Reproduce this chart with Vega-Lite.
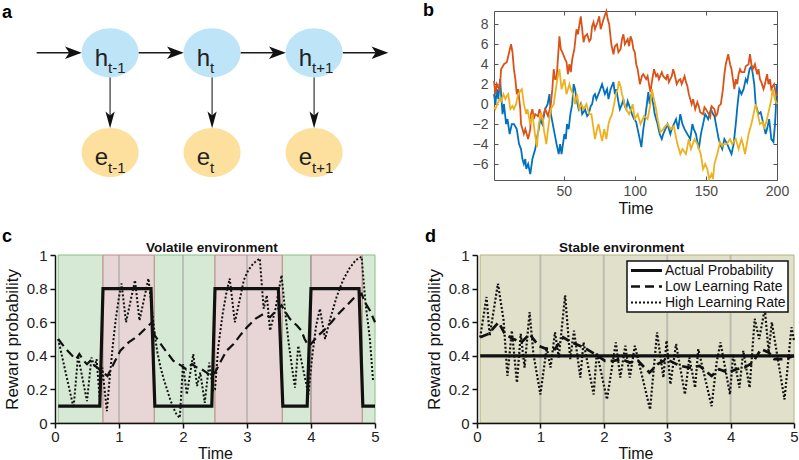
{
"$schema": "https://vega.github.io/schema/vega-lite/v6.json",
"background": "white",
"padding": {"left": 2, "top": 2, "right": 0, "bottom": 0},
"columns": 2,
"bounds": "flush",
"align": "none",
"spacing": {"row": 75, "column": 102},
"resolve": {"scale": {"color": "independent", "strokeDash": "independent", "strokeWidth": "independent"}, "legend": {"strokeDash": "independent", "strokeWidth": "independent"}},
"config": {
  "view": {"stroke": null},
  "font": "Liberation Sans",
  "text": {"font": "Liberation Sans"},
  "axis": {"labelFont": "Liberation Sans", "titleFont": "Liberation Sans", "grid": false, "titleFontWeight": "normal", "labelFlush": false, "labelOverlap": false},
  "legend": {"labelFont": "Liberation Sans", "strokeWidth": 1.5}
},
"datasets": {
  "nodes": [
    {"pos": 1, "lev": 1, "kind": "h", "sub": "t-1"},
    {"pos": 2, "lev": 1, "kind": "h", "sub": "t"},
    {"pos": 3, "lev": 1, "kind": "h", "sub": "t+1"},
    {"pos": 1, "lev": 0, "kind": "e", "sub": "t-1"},
    {"pos": 2, "lev": 0, "kind": "e", "sub": "t"},
    {"pos": 3, "lev": 0, "kind": "e", "sub": "t+1"}
  ],
  "hArrows": [
    {"from": 0.28, "to": 0.70, "head": 0.64, "lev": 1},
    {"from": 1.277, "to": 1.70, "head": 1.64, "lev": 1},
    {"from": 2.277, "to": 2.70, "head": 2.64, "lev": 1},
    {"from": 3.28, "to": 3.70, "head": 3.645, "lev": 1}
  ],
  "vArrows": [
    {"pos": 1, "from": 0.754, "to": 0.30, "head": 0.328},
    {"pos": 2, "from": 0.754, "to": 0.30, "head": 0.328},
    {"pos": 3, "from": 0.754, "to": 0.30, "head": 0.328}
  ],
  "walks": [
    {"s":1,"t":1,"v":1},{"s":1,"t":2,"v":0},{"s":1,"t":3,"v":1.5},{"s":1,"t":4,"v":0.5},{"s":1,"t":5.3,"v":2.5},{"s":1,"t":6,"v":1},{"s":1,"t":7,"v":-1},{"s":1,"t":8,"v":0},{"s":1,"t":9.5,"v":-2},{"s":1,"t":10.5,"v":-1.5},{"s":1,"t":12,"v":-3},{"s":1,"t":13.5,"v":-2},{"s":1,"t":15,"v":-2},{"s":1,"t":17,"v":-2.5},{"s":1,"t":18.6,"v":-4},{"s":1,"t":20,"v":-4.5},{"s":1,"t":21,"v":-5.5},{"s":1,"t":22,"v":-6},{"s":1,"t":23,"v":-5.5},{"s":1,"t":23.7,"v":-6.5},{"s":1,"t":25,"v":-6},{"s":1,"t":26.5,"v":-7},{"s":1,"t":27.5,"v":-6},{"s":1,"t":28,"v":-5.5},{"s":1,"t":30,"v":-4.5},{"s":1,"t":31.7,"v":-3},{"s":1,"t":32.5,"v":-2.5},{"s":1,"t":33.5,"v":-1.5},{"s":1,"t":35,"v":-2},{"s":1,"t":37,"v":-0.5},{"s":1,"t":38.7,"v":0},{"s":1,"t":40,"v":1},{"s":1,"t":41,"v":-1},{"s":1,"t":43,"v":-2.5},{"s":1,"t":45,"v":-4},{"s":1,"t":46.5,"v":-5},{"s":1,"t":47.5,"v":-4},{"s":1,"t":48.5,"v":-5},{"s":1,"t":50.5,"v":-3},{"s":1,"t":51.5,"v":-3.5},{"s":1,"t":52.3,"v":-2},{"s":1,"t":53.5,"v":-2.5},{"s":1,"t":54.7,"v":-1},{"s":1,"t":56,"v":0},{"s":1,"t":57,"v":2},{"s":1,"t":58,"v":1.5},{"s":1,"t":59,"v":0.5},{"s":1,"t":60.5,"v":-0.5},{"s":1,"t":62,"v":0},{"s":1,"t":63,"v":-1},{"s":1,"t":64,"v":-0.8},{"s":1,"t":65,"v":-0.5},{"s":1,"t":66.5,"v":-1.2},{"s":1,"t":67.6,"v":-1},{"s":1,"t":69,"v":-0.2},{"s":1,"t":70,"v":0},{"s":1,"t":71,"v":0.8},{"s":1,"t":72,"v":1},{"s":1,"t":73,"v":0.5},{"s":1,"t":75,"v":1.2},{"s":1,"t":77,"v":2},{"s":1,"t":78,"v":1.5},{"s":1,"t":79,"v":1},{"s":1,"t":80.5,"v":1.5},{"s":1,"t":81.5,"v":0.5},{"s":1,"t":83,"v":1.5},{"s":1,"t":85,"v":2.2},{"s":1,"t":86,"v":1},{"s":1,"t":87,"v":1.5},{"s":1,"t":88.5,"v":0.2},{"s":1,"t":89.5,"v":-0.5},{"s":1,"t":91,"v":0},{"s":1,"t":92,"v":0.5},{"s":1,"t":93,"v":-0.2},{"s":1,"t":94,"v":-0.5},{"s":1,"t":95,"v":0.3},{"s":1,"t":97,"v":-0.5},{"s":1,"t":98,"v":-1},{"s":1,"t":99.5,"v":-1.5},{"s":1,"t":101,"v":-1.8},{"s":1,"t":102,"v":-2.5},{"s":1,"t":103.5,"v":-3.5},{"s":1,"t":104.6,"v":-4.3},{"s":1,"t":106,"v":-2.5},{"s":1,"t":107.6,"v":-1},{"s":1,"t":108.5,"v":0},{"s":1,"t":109.5,"v":1.2},{"s":1,"t":110.5,"v":0},{"s":1,"t":111.5,"v":1},{"s":1,"t":113,"v":0},{"s":1,"t":114,"v":-1},{"s":1,"t":115,"v":-1.5},{"s":1,"t":116,"v":-2},{"s":1,"t":117.5,"v":-3},{"s":1,"t":119,"v":-3.5},{"s":1,"t":120,"v":-3},{"s":1,"t":121.5,"v":-2.5},{"s":1,"t":123,"v":-2},{"s":1,"t":125,"v":-3},{"s":1,"t":126,"v":-2.5},{"s":1,"t":127.5,"v":-2},{"s":1,"t":129,"v":-1.5},{"s":1,"t":130.5,"v":-2.5},{"s":1,"t":132,"v":-1},{"s":1,"t":133.5,"v":-2},{"s":1,"t":135,"v":-2.5},{"s":1,"t":137,"v":-3},{"s":1,"t":139,"v":-3.5},{"s":1,"t":140.5,"v":-2},{"s":1,"t":141.5,"v":-2.5},{"s":1,"t":143,"v":-3},{"s":1,"t":145,"v":-4.5},{"s":1,"t":146.5,"v":-3},{"s":1,"t":148,"v":-2},{"s":1,"t":149.5,"v":-1},{"s":1,"t":151.6,"v":-1.5},{"s":1,"t":153.5,"v":-0.5},{"s":1,"t":155,"v":-1},{"s":1,"t":156,"v":-1.2},{"s":1,"t":157.7,"v":-2.5},{"s":1,"t":159,"v":-3.5},{"s":1,"t":160,"v":-4},{"s":1,"t":161.5,"v":-4.5},{"s":1,"t":163,"v":-3.5},{"s":1,"t":165,"v":-4},{"s":1,"t":166.5,"v":-4.5},{"s":1,"t":168,"v":-5},{"s":1,"t":169.5,"v":-4},{"s":1,"t":171,"v":-2},{"s":1,"t":172.3,"v":0},{"s":1,"t":173.5,"v":1.5},{"s":1,"t":175,"v":1},{"s":1,"t":176.5,"v":1.5},{"s":1,"t":178,"v":2.5},{"s":1,"t":179,"v":2.2},{"s":1,"t":180.7,"v":3.5},{"s":1,"t":182,"v":3.8},{"s":1,"t":183,"v":3},{"s":1,"t":184,"v":2},{"s":1,"t":185,"v":0},{"s":1,"t":186,"v":-0.5},{"s":1,"t":187,"v":-1},{"s":1,"t":188.5,"v":-0.8},{"s":1,"t":190.5,"v":-2},{"s":1,"t":192,"v":-3},{"s":1,"t":193,"v":-2.5},{"s":1,"t":194.5,"v":-1.5},{"s":1,"t":196,"v":-3.5},{"s":1,"t":197.5,"v":-3.8},{"s":1,"t":198.6,"v":-2},{"s":1,"t":199.5,"v":0.5},{"s":1,"t":200,"v":2},
    {"s":2,"t":1,"v":2.3},{"s":2,"t":2,"v":1},{"s":2,"t":3,"v":2},{"s":2,"t":5,"v":1.4},{"s":2,"t":6,"v":3.5},{"s":2,"t":8,"v":4},{"s":2,"t":10,"v":4.2},{"s":2,"t":11,"v":4.8},{"s":2,"t":13,"v":6},{"s":2,"t":14,"v":5.2},{"s":2,"t":15,"v":3.5},{"s":2,"t":16,"v":2.5},{"s":2,"t":17,"v":1},{"s":2,"t":18,"v":1.5},{"s":2,"t":19.5,"v":-0.5},{"s":2,"t":20,"v":-2},{"s":2,"t":22,"v":-3},{"s":2,"t":23,"v":-2.5},{"s":2,"t":25,"v":-3.5},{"s":2,"t":26.5,"v":-2.5},{"s":2,"t":27,"v":-1},{"s":2,"t":28,"v":-0.5},{"s":2,"t":29,"v":-1.5},{"s":2,"t":30,"v":-1},{"s":2,"t":32,"v":-1.2},{"s":2,"t":33,"v":-0.5},{"s":2,"t":35,"v":-1.5},{"s":2,"t":37,"v":-0.5},{"s":2,"t":39,"v":-1.2},{"s":2,"t":41,"v":0},{"s":2,"t":42,"v":1.5},{"s":2,"t":43,"v":3.5},{"s":2,"t":44,"v":2.5},{"s":2,"t":45,"v":2.5},{"s":2,"t":47,"v":6.8},{"s":2,"t":48,"v":5.5},{"s":2,"t":49,"v":5.2},{"s":2,"t":51,"v":4.5},{"s":2,"t":52,"v":4.2},{"s":2,"t":53,"v":3},{"s":2,"t":54,"v":4},{"s":2,"t":55,"v":3.2},{"s":2,"t":56,"v":4.5},{"s":2,"t":57.5,"v":5.5},{"s":2,"t":59,"v":7.5},{"s":2,"t":60,"v":7},{"s":2,"t":62,"v":8.8},{"s":2,"t":63,"v":7.5},{"s":2,"t":64,"v":6.2},{"s":2,"t":65,"v":6.8},{"s":2,"t":66.5,"v":7},{"s":2,"t":68,"v":6.3},{"s":2,"t":69,"v":6.5},{"s":2,"t":70,"v":7.8},{"s":2,"t":71,"v":8.2},{"s":2,"t":72,"v":7.5},{"s":2,"t":74,"v":8.3},{"s":2,"t":75,"v":8.8},{"s":2,"t":76,"v":7.5},{"s":2,"t":78,"v":8.5},{"s":2,"t":80,"v":9.3},{"s":2,"t":81,"v":8.5},{"s":2,"t":82,"v":8},{"s":2,"t":83.5,"v":6},{"s":2,"t":85,"v":5},{"s":2,"t":86,"v":5.8},{"s":2,"t":87.5,"v":6},{"s":2,"t":88.5,"v":5.2},{"s":2,"t":90,"v":5.5},{"s":2,"t":91,"v":6.5},{"s":2,"t":92,"v":7},{"s":2,"t":93,"v":6},{"s":2,"t":95,"v":6.5},{"s":2,"t":96,"v":5.8},{"s":2,"t":97,"v":6.8},{"s":2,"t":98,"v":6.4},{"s":2,"t":99,"v":5.5},{"s":2,"t":100,"v":5.2},{"s":2,"t":101,"v":4},{"s":2,"t":102,"v":3.5},{"s":2,"t":103.6,"v":2},{"s":2,"t":105,"v":2.8},{"s":2,"t":106,"v":3},{"s":2,"t":108,"v":2.5},{"s":2,"t":109,"v":2.8},{"s":2,"t":110,"v":2},{"s":2,"t":111,"v":1.2},{"s":2,"t":112,"v":2.2},{"s":2,"t":113.5,"v":3.5},{"s":2,"t":115,"v":2.8},{"s":2,"t":116,"v":3},{"s":2,"t":117,"v":2.5},{"s":2,"t":119,"v":3.2},{"s":2,"t":120,"v":2.8},{"s":2,"t":122,"v":2.5},{"s":2,"t":123,"v":3},{"s":2,"t":124,"v":2.2},{"s":2,"t":126,"v":2.8},{"s":2,"t":127,"v":3.5},{"s":2,"t":128,"v":3},{"s":2,"t":129.5,"v":2},{"s":2,"t":131,"v":2.4},{"s":2,"t":132,"v":2.5},{"s":2,"t":133,"v":2},{"s":2,"t":135,"v":2.8},{"s":2,"t":136,"v":2.2},{"s":2,"t":137,"v":1.8},{"s":2,"t":138,"v":1},{"s":2,"t":140,"v":0},{"s":2,"t":141,"v":0.5},{"s":2,"t":142.5,"v":-0.5},{"s":2,"t":144,"v":0.2},{"s":2,"t":145,"v":-0.2},{"s":2,"t":146,"v":-0.8},{"s":2,"t":148,"v":-1},{"s":2,"t":149,"v":-0.3},{"s":2,"t":150,"v":-0.5},{"s":2,"t":152,"v":-1},{"s":2,"t":153,"v":-1.3},{"s":2,"t":154,"v":-0.2},{"s":2,"t":156,"v":-0.5},{"s":2,"t":157,"v":-1.2},{"s":2,"t":158,"v":-1},{"s":2,"t":159,"v":-0.2},{"s":2,"t":160.5,"v":0},{"s":2,"t":162,"v":1.5},{"s":2,"t":163,"v":3},{"s":2,"t":164,"v":4},{"s":2,"t":165.7,"v":5},{"s":2,"t":167,"v":4},{"s":2,"t":168,"v":3.5},{"s":2,"t":169,"v":2.5},{"s":2,"t":170,"v":1.5},{"s":2,"t":171,"v":2.5},{"s":2,"t":172,"v":2},{"s":2,"t":173,"v":3},{"s":2,"t":174,"v":3.5},{"s":2,"t":175,"v":3.2},{"s":2,"t":177,"v":3.2},{"s":2,"t":178,"v":3.8},{"s":2,"t":180,"v":4},{"s":2,"t":181,"v":5},{"s":2,"t":182,"v":4},{"s":2,"t":183,"v":3.5},{"s":2,"t":184.5,"v":4},{"s":2,"t":186,"v":3},{"s":2,"t":187,"v":3.5},{"s":2,"t":188,"v":2.5},{"s":2,"t":189,"v":2.2},{"s":2,"t":190.5,"v":1.5},{"s":2,"t":191.5,"v":2},{"s":2,"t":193,"v":3},{"s":2,"t":194,"v":2},{"s":2,"t":195,"v":2.5},{"s":2,"t":196,"v":1.5},{"s":2,"t":197,"v":1.8},{"s":2,"t":198,"v":2},{"s":2,"t":199,"v":1.2},{"s":2,"t":200,"v":0.8},
    {"s":3,"t":1,"v":-0.3},{"s":3,"t":2,"v":-0.5},{"s":3,"t":3.3,"v":0},{"s":3,"t":5,"v":0.5},{"s":3,"t":6,"v":0.3},{"s":3,"t":7.6,"v":1},{"s":3,"t":9,"v":0.5},{"s":3,"t":10,"v":0.8},{"s":3,"t":11,"v":1},{"s":3,"t":12.5,"v":-0.5},{"s":3,"t":14,"v":-0.2},{"s":3,"t":15,"v":-0.5},{"s":3,"t":16.5,"v":0},{"s":3,"t":18,"v":1},{"s":3,"t":19,"v":1.2},{"s":3,"t":20.6,"v":1.5},{"s":3,"t":22,"v":0},{"s":3,"t":23.7,"v":-1},{"s":3,"t":24.5,"v":-0.5},{"s":3,"t":26.5,"v":-2},{"s":3,"t":28,"v":-1},{"s":3,"t":29.8,"v":-3},{"s":3,"t":31.2,"v":-4.3},{"s":3,"t":32.5,"v":-2},{"s":3,"t":34,"v":-1},{"s":3,"t":35.5,"v":-1.5},{"s":3,"t":36,"v":-2.5},{"s":3,"t":37.8,"v":-4},{"s":3,"t":39,"v":-2.5},{"s":3,"t":41,"v":-0.5},{"s":3,"t":43,"v":0},{"s":3,"t":44,"v":1},{"s":3,"t":45.5,"v":2.5},{"s":3,"t":47,"v":3.5},{"s":3,"t":48.5,"v":1.5},{"s":3,"t":50.5,"v":2.5},{"s":3,"t":52,"v":1},{"s":3,"t":54,"v":2},{"s":3,"t":55,"v":1.5},{"s":3,"t":56.6,"v":1},{"s":3,"t":58,"v":0},{"s":3,"t":59.4,"v":1},{"s":3,"t":61,"v":-0.5},{"s":3,"t":62.5,"v":0},{"s":3,"t":64,"v":-0.5},{"s":3,"t":66,"v":0},{"s":3,"t":68,"v":-1},{"s":3,"t":69.5,"v":-1},{"s":3,"t":71,"v":-2.5},{"s":3,"t":72,"v":-3.5},{"s":3,"t":73.5,"v":-2.5},{"s":3,"t":74.5,"v":-2},{"s":3,"t":76,"v":-3},{"s":3,"t":77,"v":-3.7},{"s":3,"t":78.5,"v":-2.5},{"s":3,"t":80,"v":-3.5},{"s":3,"t":81.5,"v":-2},{"s":3,"t":82.5,"v":-1.5},{"s":3,"t":84,"v":-1},{"s":3,"t":85.5,"v":0},{"s":3,"t":86.7,"v":1},{"s":3,"t":88,"v":1.5},{"s":3,"t":88.8,"v":2.3},{"s":3,"t":90,"v":1.8},{"s":3,"t":91,"v":1},{"s":3,"t":92.8,"v":0},{"s":3,"t":94,"v":-0.5},{"s":3,"t":96,"v":-1},{"s":3,"t":97.5,"v":-0.5},{"s":3,"t":98.5,"v":0},{"s":3,"t":100,"v":-1.5},{"s":3,"t":102,"v":-1},{"s":3,"t":104,"v":-2},{"s":3,"t":106.5,"v":-1.2},{"s":3,"t":109,"v":-1.5},{"s":3,"t":111,"v":0},{"s":3,"t":112,"v":1.5},{"s":3,"t":113.5,"v":0.5},{"s":3,"t":115,"v":-0.5},{"s":3,"t":116,"v":-1.5},{"s":3,"t":118,"v":-2.8},{"s":3,"t":120,"v":-2.5},{"s":3,"t":121.5,"v":-2.2},{"s":3,"t":123,"v":-2},{"s":3,"t":125.5,"v":-2.5},{"s":3,"t":127.5,"v":-2.2},{"s":3,"t":128.5,"v":-3},{"s":3,"t":130,"v":-4},{"s":3,"t":132,"v":-5},{"s":3,"t":133.5,"v":-4.5},{"s":3,"t":135,"v":-4.8},{"s":3,"t":136,"v":-5},{"s":3,"t":138,"v":-3.5},{"s":3,"t":139.5,"v":-4.5},{"s":3,"t":142,"v":-3.5},{"s":3,"t":144,"v":-4},{"s":3,"t":146.4,"v":-5},{"s":3,"t":148,"v":-6.5},{"s":3,"t":149.5,"v":-6},{"s":3,"t":151,"v":-6.5},{"s":3,"t":152.3,"v":-7.5},{"s":3,"t":154,"v":-7},{"s":3,"t":155,"v":-7.5},{"s":3,"t":156,"v":-6},{"s":3,"t":158,"v":-5},{"s":3,"t":160,"v":-3.8},{"s":3,"t":161.5,"v":-4.2},{"s":3,"t":162.5,"v":-4},{"s":3,"t":164.7,"v":-4},{"s":3,"t":167,"v":-3.5},{"s":3,"t":168.5,"v":-4},{"s":3,"t":169.5,"v":-3.8},{"s":3,"t":171,"v":-3.5},{"s":3,"t":173,"v":-4.5},{"s":3,"t":175,"v":-3.5},{"s":3,"t":176,"v":-4},{"s":3,"t":177.5,"v":-5},{"s":3,"t":179,"v":-3.8},{"s":3,"t":180,"v":-3},{"s":3,"t":182,"v":-2},{"s":3,"t":183.5,"v":-1},{"s":3,"t":185,"v":0},{"s":3,"t":186.5,"v":-1},{"s":3,"t":188,"v":-2},{"s":3,"t":190,"v":-1.8},{"s":3,"t":191,"v":-2.5},{"s":3,"t":193,"v":-1.5},{"s":3,"t":194.5,"v":-0.5},{"s":3,"t":196,"v":0.5},{"s":3,"t":197,"v":1.5},{"s":3,"t":198.5,"v":0.5},{"s":3,"t":200,"v":0}
  ],
  "cShade": [
    {"start": 0.05, "end": 0.75, "env": "green"},
    {"start": 0.75, "end": 1.55, "env": "red"},
    {"start": 1.55, "end": 2.5, "env": "green"},
    {"start": 2.5, "end": 3.55, "env": "red"},
    {"start": 3.55, "end": 4.0, "env": "green"},
    {"start": 4.0, "end": 4.8, "env": "red"},
    {"start": 4.8, "end": 5.0, "env": "green"}
  ],
  "dShade": [{"start": 0.05, "end": 5.0, "env": "stable"}],
  "grid": [{"t": 1}, {"t": 2}, {"t": 3}, {"t": 4}],
  "cLines": [
    {"series":"Actual Probability","t":0.05,"v":0.1},{"series":"Actual Probability","t":0.7,"v":0.1},{"series":"Actual Probability","t":0.75,"v":0.8},{"series":"Actual Probability","t":1.5,"v":0.8},{"series":"Actual Probability","t":1.56,"v":0.1},{"series":"Actual Probability","t":2.45,"v":0.1},{"series":"Actual Probability","t":2.5,"v":0.8},{"series":"Actual Probability","t":3.49,"v":0.8},{"series":"Actual Probability","t":3.56,"v":0.1},{"series":"Actual Probability","t":3.94,"v":0.1},{"series":"Actual Probability","t":4.0,"v":0.8},{"series":"Actual Probability","t":4.75,"v":0.8},{"series":"Actual Probability","t":4.81,"v":0.1},{"series":"Actual Probability","t":5.0,"v":0.1},
    {"series":"Low Learning Rate","t":0.05,"v":0.5},{"series":"Low Learning Rate","t":0.15,"v":0.45},{"series":"Low Learning Rate","t":0.27,"v":0.4},{"series":"Low Learning Rate","t":0.33,"v":0.38},{"series":"Low Learning Rate","t":0.38,"v":0.41},{"series":"Low Learning Rate","t":0.45,"v":0.37},{"series":"Low Learning Rate","t":0.5,"v":0.35},{"series":"Low Learning Rate","t":0.55,"v":0.37},{"series":"Low Learning Rate","t":0.6,"v":0.35},{"series":"Low Learning Rate","t":0.66,"v":0.33},{"series":"Low Learning Rate","t":0.72,"v":0.31},{"series":"Low Learning Rate","t":0.82,"v":0.28},{"series":"Low Learning Rate","t":0.94,"v":0.37},{"series":"Low Learning Rate","t":1.02,"v":0.43},{"series":"Low Learning Rate","t":1.15,"v":0.48},{"series":"Low Learning Rate","t":1.3,"v":0.52},{"series":"Low Learning Rate","t":1.46,"v":0.58},{"series":"Low Learning Rate","t":1.52,"v":0.6},{"series":"Low Learning Rate","t":1.56,"v":0.52},{"series":"Low Learning Rate","t":1.69,"v":0.45},{"series":"Low Learning Rate","t":1.85,"v":0.37},{"series":"Low Learning Rate","t":1.98,"v":0.34},{"series":"Low Learning Rate","t":2.05,"v":0.32},{"series":"Low Learning Rate","t":2.14,"v":0.35},{"series":"Low Learning Rate","t":2.22,"v":0.33},{"series":"Low Learning Rate","t":2.29,"v":0.32},{"series":"Low Learning Rate","t":2.37,"v":0.3},{"series":"Low Learning Rate","t":2.43,"v":0.28},{"series":"Low Learning Rate","t":2.5,"v":0.3},{"series":"Low Learning Rate","t":2.58,"v":0.36},{"series":"Low Learning Rate","t":2.68,"v":0.43},{"series":"Low Learning Rate","t":2.79,"v":0.47},{"series":"Low Learning Rate","t":2.89,"v":0.52},{"series":"Low Learning Rate","t":3.0,"v":0.57},{"series":"Low Learning Rate","t":3.13,"v":0.62},{"series":"Low Learning Rate","t":3.26,"v":0.65},{"series":"Low Learning Rate","t":3.36,"v":0.63},{"series":"Low Learning Rate","t":3.46,"v":0.67},{"series":"Low Learning Rate","t":3.54,"v":0.7},{"series":"Low Learning Rate","t":3.6,"v":0.66},{"series":"Low Learning Rate","t":3.67,"v":0.62},{"series":"Low Learning Rate","t":3.78,"v":0.58},{"series":"Low Learning Rate","t":3.85,"v":0.55},{"series":"Low Learning Rate","t":3.9,"v":0.5},{"series":"Low Learning Rate","t":3.96,"v":0.46},{"series":"Low Learning Rate","t":4.0,"v":0.47},{"series":"Low Learning Rate","t":4.11,"v":0.52},{"series":"Low Learning Rate","t":4.2,"v":0.55},{"series":"Low Learning Rate","t":4.32,"v":0.6},{"series":"Low Learning Rate","t":4.43,"v":0.65},{"series":"Low Learning Rate","t":4.56,"v":0.7},{"series":"Low Learning Rate","t":4.66,"v":0.74},{"series":"Low Learning Rate","t":4.79,"v":0.77},{"series":"Low Learning Rate","t":4.84,"v":0.72},{"series":"Low Learning Rate","t":4.92,"v":0.67},{"series":"Low Learning Rate","t":5.0,"v":0.6},
    {"series":"High Learning Rate","t":0.05,"v":0.5},{"series":"High Learning Rate","t":0.29,"v":0.09},{"series":"High Learning Rate","t":0.36,"v":0.4},{"series":"High Learning Rate","t":0.5,"v":0.13},{"series":"High Learning Rate","t":0.57,"v":0.39},{"series":"High Learning Rate","t":0.62,"v":0.33},{"series":"High Learning Rate","t":0.65,"v":0.38},{"series":"High Learning Rate","t":0.7,"v":0.14},{"series":"High Learning Rate","t":0.74,"v":0.33},{"series":"High Learning Rate","t":0.81,"v":0.07},{"series":"High Learning Rate","t":0.85,"v":0.25},{"series":"High Learning Rate","t":0.9,"v":0.45},{"series":"High Learning Rate","t":0.95,"v":0.62},{"series":"High Learning Rate","t":1.0,"v":0.75},{"series":"High Learning Rate","t":1.04,"v":0.83},{"series":"High Learning Rate","t":1.11,"v":0.6},{"series":"High Learning Rate","t":1.25,"v":0.85},{"series":"High Learning Rate","t":1.32,"v":0.61},{"series":"High Learning Rate","t":1.46,"v":0.86},{"series":"High Learning Rate","t":1.56,"v":0.52},{"series":"High Learning Rate","t":1.6,"v":0.42},{"series":"High Learning Rate","t":1.65,"v":0.33},{"series":"High Learning Rate","t":1.7,"v":0.26},{"series":"High Learning Rate","t":1.75,"v":0.2},{"series":"High Learning Rate","t":1.8,"v":0.14},{"series":"High Learning Rate","t":1.85,"v":0.09},{"series":"High Learning Rate","t":1.9,"v":0.05},{"series":"High Learning Rate","t":1.95,"v":0.03},{"series":"High Learning Rate","t":2.0,"v":0.35},{"series":"High Learning Rate","t":2.06,"v":0.17},{"series":"High Learning Rate","t":2.16,"v":0.41},{"series":"High Learning Rate","t":2.22,"v":0.22},{"series":"High Learning Rate","t":2.27,"v":0.3},{"series":"High Learning Rate","t":2.34,"v":0.12},{"series":"High Learning Rate","t":2.41,"v":0.36},{"series":"High Learning Rate","t":2.47,"v":0.19},{"series":"High Learning Rate","t":2.5,"v":0.2},{"series":"High Learning Rate","t":2.55,"v":0.45},{"series":"High Learning Rate","t":2.62,"v":0.65},{"series":"High Learning Rate","t":2.68,"v":0.78},{"series":"High Learning Rate","t":2.73,"v":0.86},{"series":"High Learning Rate","t":2.81,"v":0.6},{"series":"High Learning Rate","t":2.89,"v":0.74},{"series":"High Learning Rate","t":2.95,"v":0.85},{"series":"High Learning Rate","t":3.02,"v":0.91},{"series":"High Learning Rate","t":3.1,"v":0.95},{"series":"High Learning Rate","t":3.2,"v":0.98},{"series":"High Learning Rate","t":3.26,"v":0.68},{"series":"High Learning Rate","t":3.31,"v":0.76},{"series":"High Learning Rate","t":3.36,"v":0.55},{"series":"High Learning Rate","t":3.44,"v":0.67},{"series":"High Learning Rate","t":3.54,"v":0.88},{"series":"High Learning Rate","t":3.6,"v":0.65},{"series":"High Learning Rate","t":3.65,"v":0.48},{"series":"High Learning Rate","t":3.7,"v":0.34},{"series":"High Learning Rate","t":3.75,"v":0.21},{"series":"High Learning Rate","t":3.8,"v":0.46},{"series":"High Learning Rate","t":3.96,"v":0.17},{"series":"High Learning Rate","t":4.02,"v":0.4},{"series":"High Learning Rate","t":4.08,"v":0.58},{"series":"High Learning Rate","t":4.14,"v":0.68},{"series":"High Learning Rate","t":4.22,"v":0.5},{"series":"High Learning Rate","t":4.3,"v":0.62},{"series":"High Learning Rate","t":4.4,"v":0.75},{"series":"High Learning Rate","t":4.5,"v":0.85},{"series":"High Learning Rate","t":4.6,"v":0.92},{"series":"High Learning Rate","t":4.7,"v":0.97},{"series":"High Learning Rate","t":4.79,"v":0.99},{"series":"High Learning Rate","t":4.85,"v":0.72},{"series":"High Learning Rate","t":4.92,"v":0.5},{"series":"High Learning Rate","t":4.97,"v":0.25}
  ],
  "dLines": [
    {"series":"Actual Probability","t":0.05,"v":0.4},{"series":"Actual Probability","t":5.0,"v":0.4},
    {"series":"Low Learning Rate","t":0.05,"v":0.51},{"series":"Low Learning Rate","t":0.18,"v":0.53},{"series":"Low Learning Rate","t":0.34,"v":0.6},{"series":"Low Learning Rate","t":0.44,"v":0.53},{"series":"Low Learning Rate","t":0.57,"v":0.5},{"series":"Low Learning Rate","t":0.7,"v":0.48},{"series":"Low Learning Rate","t":0.83,"v":0.53},{"series":"Low Learning Rate","t":0.97,"v":0.46},{"series":"Low Learning Rate","t":1.1,"v":0.44},{"series":"Low Learning Rate","t":1.23,"v":0.44},{"series":"Low Learning Rate","t":1.36,"v":0.51},{"series":"Low Learning Rate","t":1.49,"v":0.48},{"series":"Low Learning Rate","t":1.62,"v":0.46},{"series":"Low Learning Rate","t":1.73,"v":0.44},{"series":"Low Learning Rate","t":1.86,"v":0.41},{"series":"Low Learning Rate","t":2.02,"v":0.37},{"series":"Low Learning Rate","t":2.15,"v":0.37},{"series":"Low Learning Rate","t":2.28,"v":0.38},{"series":"Low Learning Rate","t":2.41,"v":0.36},{"series":"Low Learning Rate","t":2.54,"v":0.37},{"series":"Low Learning Rate","t":2.72,"v":0.3},{"series":"Low Learning Rate","t":2.85,"v":0.35},{"series":"Low Learning Rate","t":2.99,"v":0.38},{"series":"Low Learning Rate","t":3.2,"v":0.34},{"series":"Low Learning Rate","t":3.35,"v":0.33},{"series":"Low Learning Rate","t":3.51,"v":0.34},{"series":"Low Learning Rate","t":3.7,"v":0.28},{"series":"Low Learning Rate","t":3.82,"v":0.32},{"series":"Low Learning Rate","t":3.96,"v":0.3},{"series":"Low Learning Rate","t":4.09,"v":0.32},{"series":"Low Learning Rate","t":4.22,"v":0.33},{"series":"Low Learning Rate","t":4.35,"v":0.36},{"series":"Low Learning Rate","t":4.48,"v":0.44},{"series":"Low Learning Rate","t":4.6,"v":0.42},{"series":"Low Learning Rate","t":4.69,"v":0.38},{"series":"Low Learning Rate","t":4.85,"v":0.38},{"series":"Low Learning Rate","t":5.0,"v":0.4},
    {"series":"High Learning Rate","t":0.05,"v":0.51},{"series":"High Learning Rate","t":0.15,"v":0.75},{"series":"High Learning Rate","t":0.2,"v":0.52},{"series":"High Learning Rate","t":0.33,"v":0.83},{"series":"High Learning Rate","t":0.42,"v":0.61},{"series":"High Learning Rate","t":0.48,"v":0.28},{"series":"High Learning Rate","t":0.55,"v":0.55},{"series":"High Learning Rate","t":0.63,"v":0.24},{"series":"High Learning Rate","t":0.69,"v":0.53},{"series":"High Learning Rate","t":0.75,"v":0.33},{"series":"High Learning Rate","t":0.83,"v":0.66},{"series":"High Learning Rate","t":0.89,"v":0.41},{"series":"High Learning Rate","t":1.0,"v":0.17},{"series":"High Learning Rate","t":1.1,"v":0.45},{"series":"High Learning Rate","t":1.16,"v":0.33},{"series":"High Learning Rate","t":1.23,"v":0.54},{"series":"High Learning Rate","t":1.29,"v":0.39},{"series":"High Learning Rate","t":1.39,"v":0.76},{"series":"High Learning Rate","t":1.47,"v":0.38},{"series":"High Learning Rate","t":1.53,"v":0.55},{"series":"High Learning Rate","t":1.63,"v":0.27},{"series":"High Learning Rate","t":1.68,"v":0.48},{"series":"High Learning Rate","t":1.84,"v":0.17},{"series":"High Learning Rate","t":1.89,"v":0.42},{"series":"High Learning Rate","t":2.05,"v":0.14},{"series":"High Learning Rate","t":2.19,"v":0.48},{"series":"High Learning Rate","t":2.26,"v":0.27},{"series":"High Learning Rate","t":2.34,"v":0.46},{"series":"High Learning Rate","t":2.41,"v":0.27},{"series":"High Learning Rate","t":2.49,"v":0.46},{"series":"High Learning Rate","t":2.73,"v":0.08},{"series":"High Learning Rate","t":2.84,"v":0.54},{"series":"High Learning Rate","t":2.94,"v":0.27},{"series":"High Learning Rate","t":2.99,"v":0.49},{"series":"High Learning Rate","t":3.05,"v":0.23},{"series":"High Learning Rate","t":3.14,"v":0.47},{"series":"High Learning Rate","t":3.28,"v":0.17},{"series":"High Learning Rate","t":3.35,"v":0.39},{"series":"High Learning Rate","t":3.44,"v":0.21},{"series":"High Learning Rate","t":3.49,"v":0.44},{"series":"High Learning Rate","t":3.7,"v":0.1},{"series":"High Learning Rate","t":3.78,"v":0.36},{"series":"High Learning Rate","t":3.84,"v":0.48},{"series":"High Learning Rate","t":3.99,"v":0.17},{"series":"High Learning Rate","t":4.04,"v":0.41},{"series":"High Learning Rate","t":4.14,"v":0.21},{"series":"High Learning Rate","t":4.2,"v":0.43},{"series":"High Learning Rate","t":4.3,"v":0.21},{"series":"High Learning Rate","t":4.38,"v":0.62},{"series":"High Learning Rate","t":4.45,"v":0.5},{"series":"High Learning Rate","t":4.54,"v":0.68},{"series":"High Learning Rate","t":4.6,"v":0.42},{"series":"High Learning Rate","t":4.65,"v":0.6},{"series":"High Learning Rate","t":4.85,"v":0.14},{"series":"High Learning Rate","t":4.96,"v":0.57},{"series":"High Learning Rate","t":5.0,"v":0.49}
  ]
},
"concat": [
  {
    "width": 320, "height": 169,
    "layer": [
      {"data": {"name": "hArrows"}, "mark": {"type": "rule", "color": "#1a1a1a", "strokeWidth": 1.4},
       "encoding": {"x": {"field": "from", "type": "quantitative", "scale": {"domain": [0.46, 3.597], "nice": false, "zero": false}, "axis": null},
                    "x2": {"field": "to"},
                    "y": {"field": "lev", "type": "quantitative", "scale": {"domain": [-0.276, 1.419], "nice": false, "zero": false}, "axis": null}}},
      {"data": {"name": "vArrows"}, "mark": {"type": "rule", "color": "#333333", "strokeWidth": 1.2},
       "encoding": {"x": {"field": "pos", "type": "quantitative", "scale": {"domain": [0.46, 3.597], "nice": false, "zero": false}, "axis": null},
                    "y": {"field": "from", "type": "quantitative", "scale": {"domain": [-0.276, 1.419], "nice": false, "zero": false}, "axis": null},
                    "y2": {"field": "to"}}},
      {"data": {"name": "nodes"}, "transform": [{"filter": "datum.kind === 'h'"}],
       "mark": {"type": "point", "shape": "M-1,0A1,0.86,0,1,0,1,0A1,0.86,0,1,0,-1,0Z", "size": 3249, "filled": true, "color": "#bee4f8", "opacity": 1, "strokeWidth": 0},
       "encoding": {"x": {"field": "pos", "type": "quantitative", "scale": {"domain": [0.46, 3.597], "nice": false, "zero": false}, "axis": null},
                    "y": {"field": "lev", "type": "quantitative", "scale": {"domain": [-0.276, 1.419], "nice": false, "zero": false}, "axis": null}}},
      {"data": {"name": "nodes"}, "transform": [{"filter": "datum.kind === 'e'"}],
       "mark": {"type": "point", "shape": "M-1,0A1,0.86,0,1,0,1,0A1,0.86,0,1,0,-1,0Z", "size": 3249, "filled": true, "color": "#fde09e", "opacity": 1, "strokeWidth": 0},
       "encoding": {"x": {"field": "pos", "type": "quantitative", "scale": {"domain": [0.46, 3.597], "nice": false, "zero": false}, "axis": null},
                    "y": {"field": "lev", "type": "quantitative", "scale": {"domain": [-0.276, 1.419], "nice": false, "zero": false}, "axis": null}}},
      {"data": {"name": "hArrows"},
       "mark": {"type": "point", "shape": "M1,0L-1,-0.76L-0.5,0L-1,0.76Z", "size": 279, "filled": true, "color": "#111111", "opacity": 1, "strokeWidth": 0},
       "encoding": {"x": {"field": "head", "type": "quantitative", "scale": {"domain": [0.46, 3.597], "nice": false, "zero": false}, "axis": null},
                    "y": {"field": "lev", "type": "quantitative", "scale": {"domain": [-0.276, 1.419], "nice": false, "zero": false}, "axis": null}}},
      {"data": {"name": "vArrows"},
       "mark": {"type": "point", "shape": "M0,1L-0.55,-1L0,-0.5L0.55,-1Z", "size": 279, "filled": true, "color": "#111111", "opacity": 1, "strokeWidth": 0},
       "encoding": {"x": {"field": "pos", "type": "quantitative", "scale": {"domain": [0.46, 3.597], "nice": false, "zero": false}, "axis": null},
                    "y": {"field": "head", "type": "quantitative", "scale": {"domain": [-0.276, 1.419], "nice": false, "zero": false}, "axis": null}}},
      {"data": {"name": "nodes"},
       "mark": {"type": "text", "fontSize": 24, "align": "right", "dx": -2, "dy": 6, "color": "#222222"},
       "encoding": {"x": {"field": "pos", "type": "quantitative", "scale": {"domain": [0.46, 3.597], "nice": false, "zero": false}, "axis": null},
                    "y": {"field": "lev", "type": "quantitative", "scale": {"domain": [-0.276, 1.419], "nice": false, "zero": false}, "axis": null},
                    "text": {"field": "kind"}}},
      {"data": {"name": "nodes"},
       "mark": {"type": "text", "fontSize": 15, "align": "left", "dx": -2, "dy": 15.5, "color": "#222222"},
       "encoding": {"x": {"field": "pos", "type": "quantitative", "scale": {"domain": [0.46, 3.597], "nice": false, "zero": false}, "axis": null},
                    "y": {"field": "lev", "type": "quantitative", "scale": {"domain": [-0.276, 1.419], "nice": false, "zero": false}, "axis": null},
                    "text": {"field": "sub"}}},
      {"data": {"values": [{}]},
       "mark": {"type": "text", "text": "a", "fontSize": 18, "fontWeight": "bold", "align": "left", "dx": -53, "dy": 2, "color": "#000000"},
       "encoding": {"x": {"datum": 0.46, "type": "quantitative", "scale": {"domain": [0.46, 3.597], "nice": false, "zero": false}, "axis": null},
                    "y": {"datum": 1.419, "type": "quantitative", "scale": {"domain": [-0.276, 1.419], "nice": false, "zero": false}, "axis": null}}}
    ]
  },
  {
    "width": 300, "height": 169,
    "data": {"name": "walks"},
    "layer": [
      {"transform": [{"filter": "datum.s !== 3"}],
       "mark": {"type": "line", "strokeWidth": 1.8},
       "encoding": {
         "x": {"field": "t", "type": "quantitative", "scale": {"domain": [1, 200], "range": [17, 300], "nice": false, "zero": false},
               "axis": {"orient": "bottom", "values": [50, 100, 150, 200], "tickSize": -4, "tickColor": "#555555", "domainColor": "#555555", "labelPadding": 8, "labelFontSize": 14, "labelColor": "#4a4a4a", "labelOverlap": false, "title": "Time", "titleFontSize": 16, "titleColor": "#111111", "titlePadding": 2}},
         "y": {"field": "v", "type": "quantitative", "scale": {"domain": [-7.6, 9.33], "nice": false, "zero": false},
               "axis": {"orient": "left", "offset": -17, "values": [-6, -4, -2, 0, 2, 4, 6, 8], "tickSize": -4, "tickColor": "#555555", "domainColor": "#555555", "labelPadding": 10, "labelFontSize": 14, "labelColor": "#4a4a4a", "labelOverlap": false, "title": null}},
         "color": {"field": "s", "type": "nominal", "scale": {"domain": [1, 2, 3], "range": ["#0072BD", "#D95319", "#EDB120"]}, "legend": null}}},
      {"transform": [{"filter": "datum.s === 3"}],
       "mark": {"type": "line", "strokeWidth": 1.8},
       "encoding": {
         "x": {"field": "t", "type": "quantitative",
               "axis": {"orient": "top", "values": [50, 100, 150, 200], "tickSize": -4, "tickColor": "#555555", "domainColor": "#555555", "labels": false, "title": null}},
         "y": {"field": "v", "type": "quantitative",
               "axis": {"orient": "right", "values": [-6, -4, -2, 0, 2, 4, 6, 8], "tickSize": -4, "tickColor": "#555555", "domainColor": "#555555", "labels": false, "title": null}},
         "color": {"field": "s", "type": "nominal", "legend": null}}},
      {"data": {"values": [{}]},
       "mark": {"type": "text", "text": "b", "fontSize": 18, "fontWeight": "bold", "align": "left", "dx": -71, "dy": 0, "color": "#000000"},
       "encoding": {"x": {"datum": 1, "type": "quantitative", "axis": null}, "y": {"datum": 9.33, "type": "quantitative", "axis": null}}}
    ],
    "resolve": {"axis": {"x": "independent", "y": "independent"}}
  },
  {
    "width": 320, "height": 168,
    "resolve": {"axis": {"y": "independent"}},
    "layer": [
      {"data": {"name": "cShade"}, "transform": [{"filter": "datum.env === 'green'"}],
       "mark": {"type": "rect", "color": "#d6e9d5", "stroke": "#86c186", "strokeWidth": 1},
       "encoding": {
         "x": {"field": "start", "type": "quantitative", "scale": {"domain": [0, 5], "nice": false, "zero": false},
               "axis": {"values": [0, 1, 2, 3, 4, 5], "format": "~g", "title": "Time", "tickSize": 5, "tickWidth": 1.5, "tickColor": "#111111", "domainColor": "#111111", "domainWidth": 1.5, "labelPadding": 1, "labelFontSize": 15, "labelColor": "#222222", "labelOverlap": false, "titleFontSize": 16, "titleColor": "#111111", "titlePadding": 1, "zindex": 1}},
         "x2": {"field": "end"}}},
      {"data": {"name": "cShade"}, "transform": [{"filter": "datum.env === 'red'"}],
       "mark": {"type": "rect", "color": "#e8d6d6", "stroke": "#c48a8a", "strokeWidth": 1},
       "encoding": {"x": {"field": "start", "type": "quantitative"}, "x2": {"field": "end"}}},
      {"data": {"name": "grid"},
       "mark": {"type": "rule", "color": "#9a9a9a", "strokeWidth": 2, "opacity": 0.5},
       "encoding": {"x": {"field": "t", "type": "quantitative"}}},
      {"data": {"name": "cLines"}, "transform": [{"filter": "datum.series === 'High Learning Rate'"}],
       "mark": {"type": "line", "color": "#111111", "strokeWidth": 2, "strokeDash": [2, 2]},
       "encoding": {"x": {"field": "t", "type": "quantitative"},
                    "y": {"field": "v", "type": "quantitative", "scale": {"domain": [0, 1], "nice": false},
                          "axis": {"values": [0, 0.2, 0.4, 0.6, 0.8, 1], "format": "~g", "title": "Reward probability", "tickSize": 5, "tickWidth": 1.5, "tickColor": "#111111", "domainColor": "#111111", "domainWidth": 1.5, "labelPadding": 3, "labelFontSize": 15, "labelColor": "#222222", "labelOverlap": false, "titleFontSize": 17, "titleColor": "#111111", "titlePadding": 5, "zindex": 1}}}},
      {"data": {"name": "cLines"}, "transform": [{"filter": "datum.series === 'Low Learning Rate'"}],
       "mark": {"type": "line", "color": "#111111", "strokeWidth": 2.2, "strokeDash": [9, 5]},
       "encoding": {"x": {"field": "t", "type": "quantitative"}, "y": {"field": "v", "type": "quantitative", "axis": null}}},
      {"data": {"name": "cLines"}, "transform": [{"filter": "datum.series === 'Actual Probability'"}],
       "mark": {"type": "line", "color": "#111111", "strokeWidth": 3.2},
       "encoding": {"x": {"field": "t", "type": "quantitative"}, "y": {"field": "v", "type": "quantitative", "axis": null}}},
      {"data": {"values": [{}]},
       "mark": {"type": "text", "text": "c", "fontSize": 18, "fontWeight": "bold", "align": "left", "dx": -53, "dy": -18, "color": "#000000"},
       "encoding": {"x": {"datum": 0, "type": "quantitative"}, "y": {"datum": 1, "type": "quantitative", "axis": null}}},
      {"data": {"values": [{}]},
       "mark": {"type": "text", "text": "Volatile environment", "fontSize": 13.5, "fontWeight": "bold", "align": "center", "dy": -7, "color": "#111111"},
       "encoding": {"x": {"datum": 2.45, "type": "quantitative"}, "y": {"datum": 1, "type": "quantitative", "axis": null}}}
    ]
  },
  {
    "width": 317, "height": 168,
    "resolve": {"axis": {"y": "independent"}},
    "layer": [
      {"data": {"name": "dShade"},
       "mark": {"type": "rect", "color": "#e0e0cb", "stroke": "#b5b57c", "strokeWidth": 1},
       "encoding": {
         "x": {"field": "start", "type": "quantitative", "scale": {"domain": [0, 5], "nice": false, "zero": false},
               "axis": {"values": [0, 1, 2, 3, 4, 5], "format": "~g", "title": "Time", "tickSize": 5, "tickWidth": 1.5, "tickColor": "#111111", "domainColor": "#111111", "domainWidth": 1.5, "labelPadding": 1, "labelFontSize": 15, "labelColor": "#222222", "labelOverlap": false, "titleFontSize": 16, "titleColor": "#111111", "titlePadding": 1, "zindex": 1}},
         "x2": {"field": "end"}}},
      {"data": {"name": "grid"},
       "mark": {"type": "rule", "color": "#9a9a9a", "strokeWidth": 2, "opacity": 0.5},
       "encoding": {"x": {"field": "t", "type": "quantitative"}}},
      {"data": {"name": "dLines"},
       "mark": {"type": "line", "color": "#111111"},
       "encoding": {
         "x": {"field": "t", "type": "quantitative"},
         "y": {"field": "v", "type": "quantitative", "scale": {"domain": [0, 1], "nice": false},
               "axis": {"values": [0, 0.2, 0.4, 0.6, 0.8, 1], "format": "~g", "title": "Reward probability", "tickSize": 5, "tickWidth": 1.5, "tickColor": "#111111", "domainColor": "#111111", "domainWidth": 1.5, "labelPadding": 3, "labelFontSize": 15, "labelColor": "#222222", "labelOverlap": false, "titleFontSize": 17, "titleColor": "#111111", "titlePadding": 5, "zindex": 1}},
         "strokeDash": {"field": "series", "type": "ordinal",
                        "scale": {"domain": ["Actual Probability", "Low Learning Rate", "High Learning Rate"], "range": [[1, 0], [9, 5], [2, 2]]},
                        "legend": {"title": null, "orient": "top-right", "offset": 6, "symbolType": "stroke", "symbolSize": 961, "symbolStrokeColor": "#111111", "labelFontSize": 14, "labelColor": "#111111", "padding": 2, "rowPadding": 1, "clipHeight": 15, "strokeColor": "#111111", "fillColor": "white", "labelOffset": 1}},
         "strokeWidth": {"field": "series", "type": "ordinal",
                        "scale": {"domain": ["Actual Probability", "Low Learning Rate", "High Learning Rate"], "range": [3.2, 2.2, 2]},
                        "legend": {"title": null, "orient": "top-right", "offset": 6, "symbolType": "stroke", "symbolSize": 961, "symbolStrokeColor": "#111111", "labelFontSize": 14, "labelColor": "#111111", "padding": 2, "rowPadding": 1, "clipHeight": 15, "strokeColor": "#111111", "fillColor": "white", "labelOffset": 1}}}},
      {"data": {"values": [{}]},
       "mark": {"type": "text", "text": "d", "fontSize": 18, "fontWeight": "bold", "align": "left", "dx": -52, "dy": -18, "color": "#000000"},
       "encoding": {"x": {"datum": 0, "type": "quantitative"}, "y": {"datum": 1, "type": "quantitative", "axis": null}}},
      {"data": {"values": [{}]},
       "mark": {"type": "text", "text": "Stable environment", "fontSize": 13.5, "fontWeight": "bold", "align": "center", "dy": -7, "color": "#111111"},
       "encoding": {"x": {"datum": 2.28, "type": "quantitative"}, "y": {"datum": 1, "type": "quantitative", "axis": null}}}
    ]
  }
]
}
